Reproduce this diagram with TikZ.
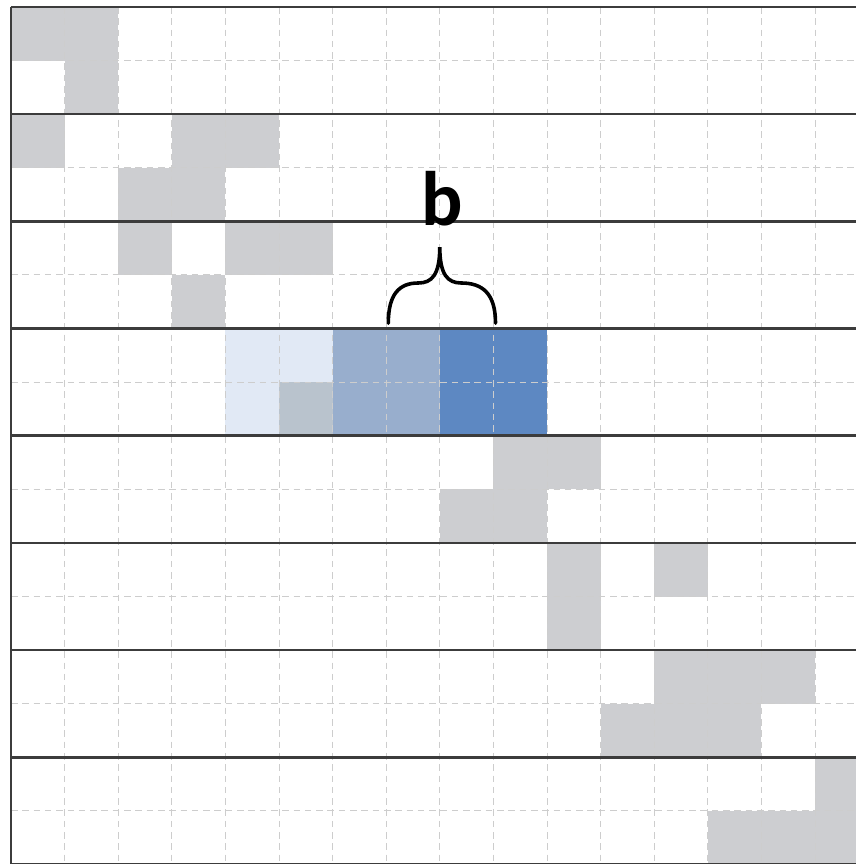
\documentclass[tikz,border=0pt]{standalone}
\usepackage{fontspec}
\setsansfont{Carlito}
\definecolor{cellgray}{RGB}{205,206,209}
\definecolor{paleblue}{RGB}{225,233,245}
\definecolor{grayblue}{RGB}{185,195,205}
\definecolor{midblue}{RGB}{152,174,205}
\definecolor{strongblue}{RGB}{93,136,194}
\definecolor{gridgray}{RGB}{205,205,205}
\definecolor{linegray}{RGB}{60,60,60}
\begin{document}
\begin{tikzpicture}[x=1cm,y=1cm,
  gridline/.style={draw=gridgray,line width=0.5pt,dash pattern=on 3.5pt off 2.5pt},
  rowline/.style={draw=linegray,line width=1.4pt},
  bracestyle/.style={draw=black,line width=1.9pt,line cap=round},
  labelstyle/.style={font=\sffamily\bfseries\fontsize{41}{43}\selectfont,inner sep=0pt,anchor=base}]
\useasboundingbox (-0.205,-15.99) rectangle (15.765,0.13);
\fill[white] (-0.205,-15.99) rectangle (15.765,0.13);
\clip (-0.205,-15.99) rectangle (15.765,0.13);
% gray cells
\foreach \c/\r in {0/0,1/0,1/1,0/2,3/2,4/2,2/3,3/3,2/4,4/4,5/4,3/5,
  9/8,10/8,8/9,9/9,10/10,12/10,10/11,12/12,13/12,14/12,11/13,12/13,13/13,
  15/14,13/15,14/15,15/15}
  \fill[cellgray] (\c,-\r) rectangle ++(1,-1);
% blue block
\fill[paleblue] (4,-6) rectangle (6,-7);
\fill[paleblue] (4,-7) rectangle (5,-8);
\fill[grayblue] (5,-7) rectangle (6,-8);
\fill[midblue] (6,-6) rectangle (8,-8);
\fill[strongblue] (8,-6) rectangle (10,-8);
% dashed grid
\foreach \x in {1,...,15} \draw[gridline] (\x,0) -- (\x,-16);
\foreach \y in {1,3,...,15} \draw[gridline] (0,-\y) -- (16,-\y);
% solid lines
\foreach \y in {0,2,...,16} \draw[rowline] (0,-\y) -- (16,-\y);
\draw[rowline] (0,0) -- (0,-16);
% brace and label
\coordinate (tip) at (8.0,-4.48);
\coordinate (bl) at (7.04,-5.9);
\coordinate (br) at (9.04,-5.9);
\draw[bracestyle] (bl) .. controls (7.04,-5.35) and (7.25,-5.15) .. (7.6,-5.15)
  .. controls (7.85,-5.15) and (8.0,-5.0) .. (tip)
  .. controls (8.0,-5.0) and (8.15,-5.15) .. (8.4,-5.15)
  .. controls (8.8,-5.15) and (9.04,-5.35) .. (br);
\node[labelstyle] (b) at (8.04,-4.086) {b};
\end{tikzpicture}
\end{document}
